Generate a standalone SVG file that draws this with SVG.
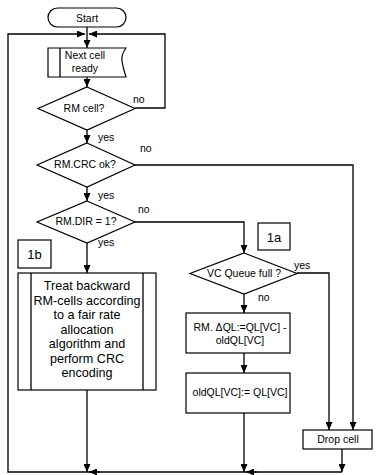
<svg xmlns="http://www.w3.org/2000/svg" width="379" height="475" viewBox="0 0 379 475">
  <style>
    .shape { fill: #ffffff; stroke: #000000; stroke-width: 1.2; }
    .line { fill: none; stroke: #000000; stroke-width: 1.3; }
    .arrow { fill: none; stroke: #000000; stroke-width: 1.3; marker-end: url(#head); }
    text { font-family: "Liberation Sans", Arial, sans-serif; font-size: 10.5px; fill: #000000; }
    .c { text-anchor: middle; }
    .big { font-size: 12.6px; }
    .tag { font-size: 13px; }
  </style>
  <defs>
    <marker id="head" viewBox="0 0 8 7" refX="8" refY="3.5" markerWidth="8" markerHeight="7" markerUnits="userSpaceOnUse" orient="auto">
      <path d="M0,0 L8,3.5 L0,7 Z" fill="#000000"/>
    </marker>
  </defs>

  <rect width="379" height="475" fill="#ffffff"/>

  <!-- connectors -->
  <g id="connectors">
    <path class="arrow" d="M87,27 V48"/>
    <path class="arrow" d="M342,472 H8 V34 H85"/>
    <path class="arrow" d="M135,108 H165 V34 H89"/>
    <path class="arrow" d="M87,77 V87"/>
    <path class="arrow" d="M87,130 V143"/>
    <path class="arrow" d="M87,187 V201"/>
    <path class="arrow" d="M87,243 V273"/>
    <path class="arrow" d="M87,390 V472"/>
    <path class="arrow" d="M135,165 H353 V430"/>
    <path class="arrow" d="M135,222 H244 V253"/>
    <path class="arrow" d="M244,294 V313"/>
    <path class="arrow" d="M244,353 V373"/>
    <path class="arrow" d="M244,413 V472"/>
    <path class="arrow" d="M297,273 H329 V430"/>
    <path class="arrow" d="M342,449 V472"/>
    <!-- merge heads on the return line -->
    <path class="arrow" d="M100,472 H89"/>
    <path class="arrow" d="M257,472 H246"/>
  </g>

  <!-- branch labels -->
  <g id="labels">
    <text x="133" y="103">no</text>
    <text x="98" y="141">yes</text>
    <text x="140" y="152">no</text>
    <text x="98" y="199">yes</text>
    <text x="138" y="213">no</text>
    <text x="98" y="246">yes</text>
    <text x="294" y="269">yes</text>
    <text x="258" y="301">no</text>
  </g>

  <g id="start">
    <rect class="shape" x="48" y="8" width="78" height="19" rx="9.5"/>
    <text class="c" x="87" y="21.5">Start</text>
  </g>

  <g id="next-cell">
    <path class="shape" d="M48,48 H126 Q121,55 122,61 Q123,68 126,77 H48 Z"/>
    <line class="line" x1="60" y1="48" x2="60" y2="77"/>
    <text class="c" x="85" y="59">Next cell</text>
    <text class="c" x="85" y="72">ready</text>
  </g>

  <g id="rm-cell">
    <path class="shape" d="M87,87 L135,108.5 L87,130 L38,108.5 Z"/>
    <text class="c" x="84" y="112">RM cell?</text>
  </g>

  <g id="rm-crc">
    <path class="shape" d="M87,143 L135,165 L87,187 L37,165 Z"/>
    <text class="c" x="85" y="168">RM.CRC ok?</text>
  </g>

  <g id="rm-dir">
    <path class="shape" d="M87,201 L135,222 L87,243 L37,222 Z"/>
    <text class="c" x="86" y="225">RM.DIR = 1?</text>
  </g>

  <g id="tag-1b">
    <rect class="shape" x="18" y="240" width="33" height="28"/>
    <text class="c tag" x="34.5" y="258.5">1b</text>
  </g>

  <g id="treat-backward">
    <rect class="shape" x="18" y="273" width="138" height="117"/>
    <line class="line" x1="31" y1="273" x2="31" y2="390"/>
    <line class="line" x1="143" y1="273" x2="143" y2="390"/>
    <text class="c big" x="87" y="290">Treat backward</text>
    <text class="c big" x="87" y="304.5">RM-cells according</text>
    <text class="c big" x="87" y="319">to a fair rate</text>
    <text class="c big" x="87" y="333.5">allocation</text>
    <text class="c big" x="87" y="348">algorithm and</text>
    <text class="c big" x="87" y="362.5">perform CRC</text>
    <text class="c big" x="87" y="377">encoding</text>
  </g>

  <g id="tag-1a">
    <rect class="shape" x="258" y="223" width="32" height="27"/>
    <text class="c tag" x="274" y="241.5">1a</text>
  </g>

  <g id="vc-queue">
    <path class="shape" d="M244,253 L297,273.5 L244,294 L190,273.5 Z"/>
    <text class="c" x="244" y="277">VC Queue full ?</text>
  </g>

  <g id="delta-ql">
    <rect class="shape" x="186" y="313" width="104" height="40"/>
    <text class="c" x="240" y="331">RM. ΔQL:=QL[VC] -</text>
    <text class="c" x="240" y="344">oldQL[VC]</text>
  </g>

  <g id="old-ql">
    <rect class="shape" x="186" y="373" width="104" height="40"/>
    <text class="c" x="240" y="396">oldQL[VC]:= QL[VC]</text>
  </g>

  <g id="drop-cell">
    <rect class="shape" x="303" y="430" width="69" height="19"/>
    <text class="c" x="338" y="443">Drop cell</text>
  </g>
</svg>
